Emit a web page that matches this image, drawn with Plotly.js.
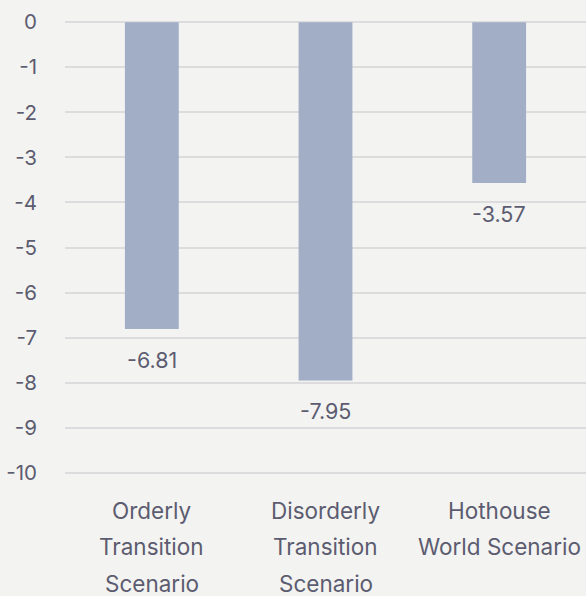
<!DOCTYPE html>
<html>
<head>
<meta charset="utf-8">
<script src="https://cdn.plot.ly/plotly-3.0.1.min.js"></script>
<style>html,body{margin:0;padding:0;background:#f3f3f1;}#chart{width:586px;height:596px;}</style>
</head>
<body>
<div id="chart"></div>
<script>
var categories = ["Orderly Transition Scenario", "Disorderly Transition Scenario", "Hothouse World Scenario"];
var labelLines = [["Orderly", "Transition", "Scenario"], ["Disorderly", "Transition", "Scenario"], ["Hothouse", "World Scenario"]];
var values = [-6.81, -7.95, -3.57];
var valueLabels = ["-6.81", "-7.95", "-3.57"];
var yTicks = [0, -1, -2, -3, -4, -5, -6, -7, -8, -9, -10];

var textColor = "#5c5c70";
var fontFam = "Inter, 'Noto Sans', sans-serif";

var annotations = [];
for (var i = 0; i < categories.length; i++) {
  annotations.push({
    x: categories[i], y: values[i], xref: "x", yref: "y",
    text: valueLabels[i], showarrow: false, yanchor: "middle", yshift: -31,
    font: {family: fontFam, size: 21.5, color: textColor}
  });
  for (var j = 0; j < labelLines[i].length; j++) {
    annotations.push({
      x: categories[i], y: 0, xref: "x", yref: "paper",
      text: labelLines[i][j], showarrow: false, yanchor: "middle",
      yshift: -35 - 36.5 * j,
      font: {family: fontFam, size: 22.5, color: textColor}
    });
  }
}

var trace = {
  type: "bar", x: categories, y: values,
  marker: {color: "#a1aec5"}, width: 0.31, hoverinfo: "none"
};

var layout = {
  width: 586, height: 596,
  margin: {l: 65, r: 0, t: 20, b: 121},
  paper_bgcolor: "#f3f3f1", plot_bgcolor: "#f3f3f1",
  showlegend: false,
  font: {family: fontFam, color: textColor, size: 20},
  xaxis: {showticklabels: false, showgrid: false, zeroline: false, showline: false, range: [-0.5, 2.5], fixedrange: true},
  yaxis: {range: [-10.05, 0.05], tickvals: yTicks, ticktext: yTicks.map(String), showgrid: true, gridcolor: "#dcdcde", gridwidth: 2, zeroline: false, showline: false, ticks: "", ticklabelstandoff: 27, tickfont: {family: fontFam, size: 20.5, color: textColor}},
  annotations: annotations
};

Plotly.newPlot("chart", [trace], layout, {displayModeBar: false, staticPlot: true});
</script>
</body>
</html>
